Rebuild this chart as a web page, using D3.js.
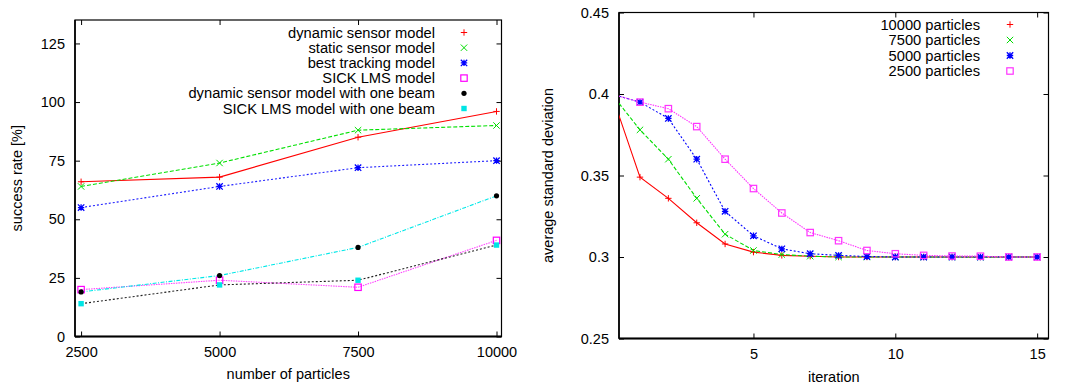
<!DOCTYPE html>
<html>
<head>
<meta charset="utf-8">
<script src="https://cdn.jsdelivr.net/npm/d3@7"></script>
<style>
  body { margin: 0; background: #fff; }
  text { font-family: "Liberation Sans", Arial, Helvetica, sans-serif; }
</style>
</head>
<body>
<script>
// ---- left chart data ----
const particles = [2500, 5000, 7500, 10000];
const dynamicSensor = [66, 68, 85, 96];
const staticSensor = [64, 74, 88, 90];
const bestTracking = [55, 64, 72, 75];
const sickLms = [20, 24, 21, 41];
const dynamicOneBeam = [19, 26, 38, 60];
const sickOneBeam = [14, 22, 24, 39];
const successTicks = [0, 25, 50, 75, 100, 125];

// ---- right chart data ----
const iterations = [0, 1, 2, 3, 4, 5, 6, 7, 8, 9, 10, 11, 12, 13, 14, 15];
const std10000 = [0.4, 0.349, 0.336, 0.321, 0.308, 0.303, 0.301, 0.3005, 0.3, 0.3, 0.3, 0.3, 0.3, 0.3, 0.3, 0.3];
const std7500 = [0.4, 0.378, 0.36, 0.336, 0.314, 0.304, 0.3015, 0.3005, 0.3, 0.3, 0.3, 0.3, 0.3, 0.3, 0.3, 0.3];
const std5000 = [0.4, 0.395, 0.385, 0.36, 0.328, 0.313, 0.305, 0.302, 0.301, 0.3003, 0.3, 0.3, 0.3, 0.3, 0.3, 0.3];
const std2500 = [0.4, 0.395, 0.391, 0.38, 0.36, 0.342, 0.327, 0.315, 0.31, 0.304, 0.302, 0.301, 0.3006, 0.3005, 0.3, 0.3];
const stdTicks = [0.25, 0.3, 0.35, 0.4, 0.45];
const iterTicks = [5, 10, 15];

const W = 1071, H = 387;
const svg = d3.select("body").append("svg").attr("width", W).attr("height", H);

// marker shapes, gnuplot style
function marker(g, type, x, y, color) {
  const s = 3.2;
  if (type === "plus") {
    g.append("path").attr("d", `M${x-s},${y}H${x+s}M${x},${y-s}V${y+s}`).attr("stroke", color).attr("fill", "none");
  } else if (type === "cross") {
    g.append("path").attr("d", `M${x-s},${y-s}L${x+s},${y+s}M${x-s},${y+s}L${x+s},${y-s}`).attr("stroke", color).attr("fill", "none");
  } else if (type === "star") {
    g.append("path").attr("d", `M${x-s},${y}H${x+s}M${x},${y-s}V${y+s}M${x-s},${y-s}L${x+s},${y+s}M${x-s},${y+s}L${x+s},${y-s}`)
      .attr("stroke", color).attr("fill", "none").attr("stroke-width", 1.3);
  } else if (type === "box") {
    g.append("rect").attr("x", x-s).attr("y", y-s).attr("width", 2*s).attr("height", 2*s)
      .attr("stroke", color).attr("fill", "none").attr("stroke-width", 1.2);
  } else if (type === "boxfill") {
    g.append("rect").attr("x", x-s+0.5).attr("y", y-s+0.5).attr("width", 2*s-1).attr("height", 2*s-1).attr("fill", color);
  } else if (type === "circle") {
    g.append("circle").attr("cx", x).attr("cy", y).attr("r", 2.6).attr("fill", color);
  }
}

function frame(g, x, y, left, top, right, bottom, xTicks, yTicks, xFmt, yFmt) {
  const ax = g.append("g");
  ax.append("g").attr("transform", `translate(${left},0)`)
    .call(d3.axisLeft(y).tickValues(yTicks).tickSize(-5).tickPadding(10).tickFormat(yFmt));
  ax.append("g").attr("transform", `translate(${right},0)`)
    .call(d3.axisRight(y).tickValues(yTicks).tickSize(-5).tickFormat(""));
  ax.append("g").attr("transform", `translate(0,${bottom})`)
    .call(d3.axisBottom(x).tickValues(xTicks).tickSize(-5).tickPadding(10).tickFormat(xFmt));
  ax.append("g").attr("transform", `translate(0,${top})`)
    .call(d3.axisTop(x).tickValues(xTicks).tickSize(-5).tickFormat(""));
  ax.selectAll(".domain").remove();
  ax.selectAll("g").attr("font-size", null).attr("font-family", null);
  ax.selectAll("text").attr("fill", "#000").attr("font-size", 14.5);
  ax.selectAll(".tick line").attr("stroke", "#000");
  g.append("rect").attr("x", left).attr("y", top).attr("width", right - left).attr("height", bottom - top)
    .attr("fill", "none").attr("stroke", "#000").attr("stroke-width", 1.2);
  g.append("line").attr("x1", left).attr("x2", right).attr("y1", bottom).attr("y2", bottom)
    .attr("stroke", "#000").attr("stroke-width", 2);
  g.append("line").attr("x1", left).attr("x2", left).attr("y1", top).attr("y2", bottom)
    .attr("stroke", "#000").attr("stroke-width", 1.6);
}

// ================= left chart =================
{
  const L = 75, T = 20, R = 501.5, B = 336.5;
  const x = d3.scaleLinear().domain([2390, 10090]).range([L, R]);
  const y = d3.scaleLinear().domain([0, 135]).range([B, T]);
  const g = svg.append("g");

  const series = [
    {name: "dynamic sensor model", values: dynamicSensor, color: "#ff0000", lineColor: "#ff0000", dash: null, mk: "plus"},
    {name: "static sensor model", values: staticSensor, color: "#00dd00", lineColor: "#00e000", dash: "4,2", mk: "cross"},
    {name: "best tracking model", values: bestTracking, color: "#0000ff", lineColor: "#2020ff", dash: "2,2", mk: "star"},
    {name: "SICK LMS model", values: sickLms, color: "#ff00ff", lineColor: "#ff44ff", dash: "1.5,1", mk: "box"},
    {name: "dynamic sensor model with one beam", values: dynamicOneBeam, color: "#000000", lineColor: "#00e8e8", dash: "4,1.5,1,1.5", mk: "circle"},
    {name: "SICK LMS model with one beam", values: sickOneBeam, color: "#00e5e5", lineColor: "#222222", dash: "2,2", mk: "boxfill"}
  ];

  frame(g, x, y, L, T, R, B, particles, successTicks, d3.format("d"), d3.format("d"));

  const line = d3.line().x((d, i) => x(particles[i])).y(d => y(d));
  series.forEach(s => {
    g.append("path").attr("d", line(s.values)).attr("fill", "none")
      .attr("stroke", s.lineColor).attr("stroke-width", 1.1)
      .attr("stroke-dasharray", s.dash);
  });
  series.forEach(s => {
    s.values.forEach((v, i) => marker(g, s.mk, x(particles[i]), y(v), s.color));
  });

  const leg = g.append("g").attr("font-size", 14.7);
  series.forEach((s, i) => {
    const cy = 32.5 + i * 15.2;
    leg.append("text").attr("x", 435).attr("y", cy + 5).attr("text-anchor", "end").text(s.name);
    marker(leg, s.mk, 464, cy, s.color);
  });

  g.append("text").attr("x", (L + R) / 2).attr("y", 379).attr("text-anchor", "middle")
    .attr("font-size", 14.5).text("number of particles");
  g.append("text").attr("transform", `translate(22,${(T + B) / 2}) rotate(-90)`)
    .attr("text-anchor", "middle").attr("font-size", 14.5).text("success rate [%]");
}

// ================= right chart =================
{
  const L = 619, T = 12.5, R = 1048.5, B = 338.5;
  const x = d3.scaleLinear().domain([0.26, 15.4]).range([L, R]);
  const y = d3.scaleLinear().domain([0.25, 0.45]).range([B, T]);
  const g = svg.append("g");

  svg.append("clipPath").attr("id", "clipR").append("rect")
    .attr("x", L).attr("y", T).attr("width", R - L).attr("height", B - T);

  const series = [
    {name: "10000 particles", values: std10000, color: "#ff0000", dash: null, mk: "plus"},
    {name: "7500 particles", values: std7500, color: "#00dd00", dash: "4,2", mk: "cross"},
    {name: "5000 particles", values: std5000, color: "#0000ff", dash: "2,2", mk: "star"},
    {name: "2500 particles", values: std2500, color: "#ff33ff", dash: "1.5,1", mk: "box"}
  ];

  frame(g, x, y, L, T, R, B, iterTicks, stdTicks, d3.format("d"), d => String(+d.toFixed(2)));

  const plot = g.append("g").attr("clip-path", "url(#clipR)");
  const line = d3.line().x((d, i) => x(iterations[i])).y(d => y(d));
  series.forEach(s => {
    plot.append("path").attr("d", line(s.values)).attr("fill", "none")
      .attr("stroke", s.color).attr("stroke-width", 1.1).attr("stroke-dasharray", s.dash);
  });
  series.forEach(s => {
    s.values.forEach((v, i) => { if (iterations[i] > 0) marker(plot, s.mk, x(iterations[i]), y(v), s.color); });
  });

  const leg = g.append("g").attr("font-size", 14.7);
  series.forEach((s, i) => {
    const cy = 24.5 + i * 15.5;
    leg.append("text").attr("x", 980).attr("y", cy + 5).attr("text-anchor", "end").text(s.name);
    marker(leg, s.mk, 1010, cy, s.color);
  });

  g.append("text").attr("x", (L + R) / 2).attr("y", 382).attr("text-anchor", "middle")
    .attr("font-size", 14.5).text("iteration");
  g.append("text").attr("transform", `translate(553,${(T + B) / 2}) rotate(-90)`)
    .attr("text-anchor", "middle").attr("font-size", 14.5).text("average standard deviation");
}
</script>
</body>
</html>
